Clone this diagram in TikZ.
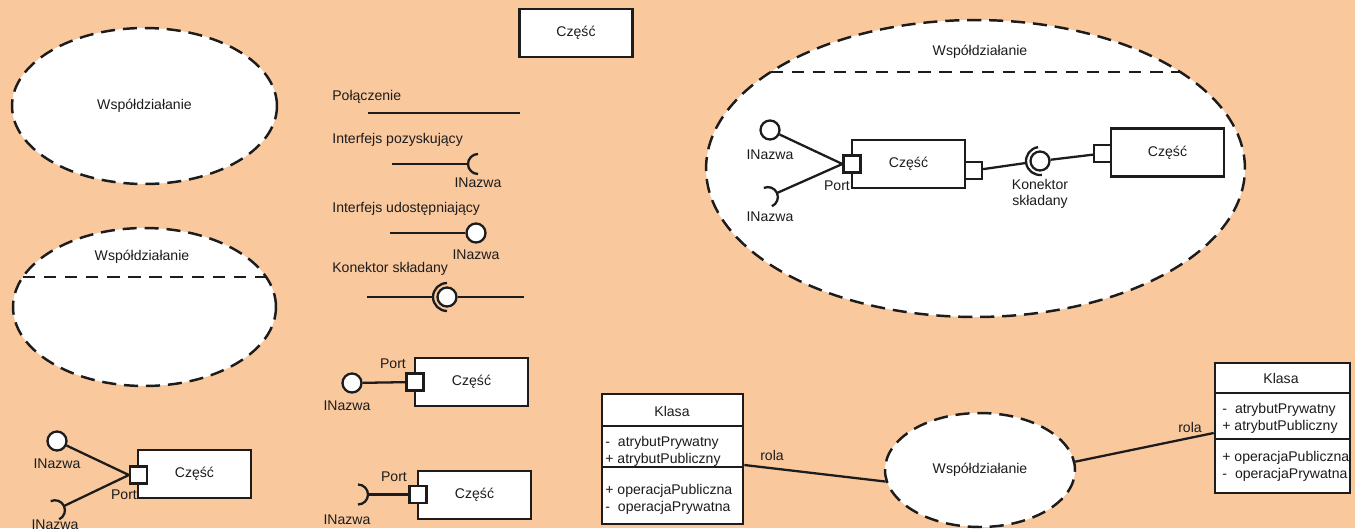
\documentclass[tikz,border=0pt]{standalone}
\usepackage{fontspec}
\setmainfont{Liberation Sans}
\usetikzlibrary{shapes.geometric,calc}
\definecolor{paper}{RGB}{249,200,157}
\definecolor{ink}{RGB}{28,28,28}
\tikzset{
  every node/.style={font=\fontsize{8}{9.8}\selectfont, text=ink, inner sep=0pt},
  collab/.style={ellipse, draw=ink, fill=white, line width=1.4pt, dash pattern=on 8pt off 4.5pt},
  chord/.style={draw=ink, line width=1.4pt, dash pattern=on 7pt off 5pt},
  part/.style={rectangle, draw=ink, fill=white, line width=1.5pt, minimum width=2.26cm, minimum height=0.96cm},
  port/.style={rectangle, draw=ink, fill=white, line width=1.3pt, minimum size=0.34cm},
  lollipop/.style={circle, draw=ink, fill=white, line width=1.3pt, minimum size=0.38cm},
  conn/.style={draw=ink, line width=1.3pt},
  classbox/.style={rectangle, draw=ink, fill=white, line width=1.5pt, minimum height=2.6cm},
  divider/.style={draw=ink, line width=1.3pt},
  pics/socket/.style={code={\draw[conn] (-0.2cm,-0.2cm) arc[start angle=-90,end angle=90,radius=0.2cm];}},
  pics/cup/.style={code={\draw[conn] (0cm,-0.28cm) arc[start angle=-90,end angle=90,radius=0.28cm];}},
}
\begin{document}
\begin{tikzpicture}[x=0.02cm, y=-0.02cm]
\useasboundingbox (0,0) rectangle (1355,528);
\fill[paper] (0,0) rectangle (1355,528);

% --- plain collaboration ellipses ---
\node[collab, minimum width=5.3cm, minimum height=3.12cm] (coA) at (144.5,106) {Współdziałanie};
\node[collab, minimum width=5.26cm, minimum height=3.16cm] (coB) at (144.5,307) {};
\draw[chord] (22.9,277) -- (266.1,277);
\node (coBname) at (142,257) {Współdziałanie};

% --- part with two interfaces on one port ---
\node[part] (partA) at (194.5,474) {Część};
\node[port] (portA) at (138.5,475) {};
\node[lollipop] (ifA) at (57,441) {};
\coordinate (sockA) at (64,506);
\pic[rotate=25] at (sockA) {socket};
\draw[conn] (ifA) -- (portA.west);
\draw[conn] (sockA) -- (portA.west);
\node (nmA1) at (57,464) {INazwa};
\node (nmA2) at (55,525) {INazwa};
\node (ptA) at (124,495) {Port};

% --- legend column ---
\node[part] (partT) at (576,33) {Część};
\node[anchor=west] (tLink) at (332,97) {Połączenie};
\coordinate (lnA) at (368,113);
\coordinate (lnB) at (520,113);
\draw[conn] (lnA) -- (lnB);

\node[anchor=west] (tReq) at (332,140) {Interfejs pozyskujący};
\coordinate (reqA) at (392,164);
\coordinate (reqB) at (468,164);
\draw[conn] (reqA) -- (reqB);
\pic[rotate=180] at (reqB) {socket};
\node (nmR) at (478,183) {INazwa};

\node[anchor=west] (tProv) at (332,209) {Interfejs udostępniający};
\coordinate (provA) at (390,233);
\node[lollipop] (provB) at (476,233) {};
\draw[conn] (provA) -- (provB);
\node (nmP) at (476,255) {INazwa};

\node[anchor=west] (tAsm) at (332,269) {Konektor składany};
\coordinate (asmA) at (367,297);
\node[lollipop] (asmBall) at (447,297) {};
\coordinate (asmB) at (524,297);
\pic[rotate=180] at (asmBall) {cup};
\coordinate (asmCup) at ($(asmBall.center)+(180:0.28cm)$);
\draw[conn] (asmA) -- (asmCup);
\draw[conn] (asmBall) -- (asmB);

% --- part with provided interface ---
\node[part] (partB) at (471.5,382) {Część};
\node[port] (portB) at (415,382) {};
\node[lollipop] (ifB) at (352,383) {};
\draw[conn] (ifB) -- (portB);
\node (ptB) at (393,364) {Port};
\node (nmB) at (347,406) {INazwa};

% --- part with required interface ---
\node[part] (partC) at (474.5,495) {Część};
\node[port] (portC) at (418,494.5) {};
\coordinate (sockC) at (368,494.5);
\pic at (sockC) {socket};
\draw[conn] (sockC) -- (portC);
\node (ptC) at (394,477) {Port};
\node (nmC) at (347,520) {INazwa};

% --- collaboration with internal structure ---
\node[collab, minimum width=10.78cm, minimum height=5.94cm] (coC) at (975.5,168.5) {};
\draw[chord] (770.7,72) -- (1180.3,72);
\node (coCname) at (980,52) {Współdziałanie};
\node[part] (partD) at (908.5,164) {Część};
\node[port] (portD) at (852,164) {};
\node[port] (portD2) at (973.5,170.5) {};
\node[lollipop] (ifD) at (770,130) {};
\coordinate (sockD) at (777,193);
\pic[rotate=24] at (sockD) {socket};
\draw[conn] (ifD) -- (portD.west);
\draw[conn] (sockD) -- (portD.west);
\node (nmD1) at (770,155) {INazwa};
\node (nmD2) at (770,217) {INazwa};
\node (ptD) at (837,186) {Port};

\node[part] (partE) at (1167.5,152.5) {Część};
\node[port] (portE) at (1102.5,153.5) {};
\node[lollipop] (asmD) at (1040,161) {};
\pic[rotate=188] at (asmD) {cup};
\coordinate (asmDcup) at ($(asmD.center)+(188:0.28cm)$);
\draw[conn] (portD2) -- (asmDcup);
\draw[conn] (asmD) -- (portE);
\node[align=center, font=\fontsize{8}{8.8}\selectfont] (asmDlab) at (1040,194) {Konektor\\składany};

% --- classes playing roles in a collaboration ---
\node[classbox, minimum width=2.82cm] (klL) at (672.5,459) {};
\draw[divider] (klL.west |- 0,426) -- (klL.east |- 0,426);
\draw[divider] (klL.west |- 0,467) -- (klL.east |- 0,467);
\node (klLname) at (672,411) {Klasa};
\node[anchor=west, align=left] (klLattr) at (605,451) {\makebox[0.9em][l]{-}atrybutPrywatny\\+ atrybutPubliczny};
\node[anchor=west, align=left] (klLops) at (605,499) {+ operacjaPubliczna\\\makebox[0.9em][l]{-}operacjaPrywatna};

\node[collab, minimum width=3.8cm, minimum height=2.28cm] (coD) at (980,470) {Współdziałanie};

\node[classbox, minimum width=2.7cm] (klR) at (1282.5,428) {};
\draw[divider] (klR.west |- 0,393) -- (klR.east |- 0,393);
\draw[divider] (klR.west |- 0,439) -- (klR.east |- 0,439);
\node (klRname) at (1281,378) {Klasa};
\node[anchor=west, align=left] (klRattr) at (1222,418.5) {\makebox[0.9em][l]{-}atrybutPrywatny\\+ atrybutPubliczny};
\node[anchor=west, align=left] (klRops) at (1222,466.5) {+ operacjaPubliczna\\\makebox[0.9em][l]{-}operacjaPrywatna};

\draw[conn] ([yshift=-0.12cm]klL.east) -- (coD.187);
\draw[conn] (coD.5) -- ([yshift=-0.1cm]klR.west);
\node (rolaL) at (772,455) {rola};
\node (rolaR) at (1190,427) {rola};
\end{tikzpicture}
\end{document}
